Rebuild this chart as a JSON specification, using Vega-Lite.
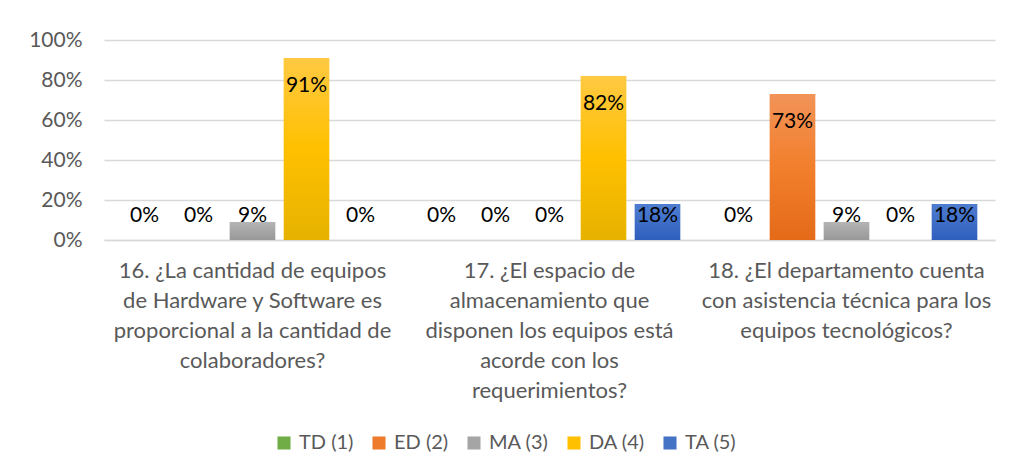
{
  "$schema": "https://vega.github.io/schema/vega-lite/v6.json",
  "autosize": {"type": "none"},
  "width": 891,
  "height": 200,
  "padding": {"left": 104, "top": 40, "right": 14, "bottom": 232},
  "background": "white",
  "config": {
    "view": {"stroke": null},
    "font": "Lato",
    "axis": {"labelFont": "Lato", "labelColor": "#595959", "labelFontSize": 21}
  },
  "data": {
    "values": [
      {"q": "16. ¿La cantidad de equipos\nde Hardware y Software es\nproporcional a la cantidad de\ncolaboradores?", "s": "TD (1)", "v": 0},
      {"q": "16. ¿La cantidad de equipos\nde Hardware y Software es\nproporcional a la cantidad de\ncolaboradores?", "s": "ED (2)", "v": 0},
      {"q": "16. ¿La cantidad de equipos\nde Hardware y Software es\nproporcional a la cantidad de\ncolaboradores?", "s": "MA (3)", "v": 0.09},
      {"q": "16. ¿La cantidad de equipos\nde Hardware y Software es\nproporcional a la cantidad de\ncolaboradores?", "s": "DA (4)", "v": 0.91},
      {"q": "16. ¿La cantidad de equipos\nde Hardware y Software es\nproporcional a la cantidad de\ncolaboradores?", "s": "TA (5)", "v": 0},
      {"q": "17. ¿El espacio de\nalmacenamiento que\ndisponen los equipos está\nacorde con los\nrequerimientos?", "s": "TD (1)", "v": 0},
      {"q": "17. ¿El espacio de\nalmacenamiento que\ndisponen los equipos está\nacorde con los\nrequerimientos?", "s": "ED (2)", "v": 0},
      {"q": "17. ¿El espacio de\nalmacenamiento que\ndisponen los equipos está\nacorde con los\nrequerimientos?", "s": "MA (3)", "v": 0},
      {"q": "17. ¿El espacio de\nalmacenamiento que\ndisponen los equipos está\nacorde con los\nrequerimientos?", "s": "DA (4)", "v": 0.82},
      {"q": "17. ¿El espacio de\nalmacenamiento que\ndisponen los equipos está\nacorde con los\nrequerimientos?", "s": "TA (5)", "v": 0.18},
      {"q": "18. ¿El departamento cuenta\ncon asistencia técnica para los\nequipos tecnológicos?", "s": "TD (1)", "v": 0},
      {"q": "18. ¿El departamento cuenta\ncon asistencia técnica para los\nequipos tecnológicos?", "s": "ED (2)", "v": 0.73},
      {"q": "18. ¿El departamento cuenta\ncon asistencia técnica para los\nequipos tecnológicos?", "s": "MA (3)", "v": 0.09},
      {"q": "18. ¿El departamento cuenta\ncon asistencia técnica para los\nequipos tecnológicos?", "s": "DA (4)", "v": 0},
      {"q": "18. ¿El departamento cuenta\ncon asistencia técnica para los\nequipos tecnológicos?", "s": "TA (5)", "v": 0.18}
    ]
  },
  "encoding": {
    "x": {
      "field": "q", "type": "nominal", "sort": null, "title": null,
      "scale": {"paddingInner": 0.12, "paddingOuter": 0.06},
      "axis": {"labelAngle": 0, "labelExpr": "split(datum.value, '\\n')", "labelFontSize": 22, "labelLineHeight": 30, "labelPadding": 20, "ticks": false, "domainColor": "#D9D9D9", "domainWidth": 1.5, "labelLimit": 400}
    },
    "xOffset": {"field": "s", "type": "nominal", "sort": ["TD (1)", "ED (2)", "MA (3)", "DA (4)", "TA (5)"], "scale": {"paddingInner": 0.16}},
    "y": {"field": "v", "type": "quantitative", "title": null,
      "scale": {"domain": [0, 1]},
      "axis": {"format": ".0%", "values": [0, 0.2, 0.4, 0.6, 0.8, 1], "labelOverlap": false, "domain": false, "ticks": false, "gridColor": "#D9D9D9", "gridWidth": 1.5, "labelPadding": 22}}
  },
  "layer": [
    {
      "mark": {"type": "bar"},
      "encoding": {
        "color": {"field": "s", "type": "nominal", "sort": ["TD (1)", "ED (2)", "MA (3)", "DA (4)", "TA (5)"],
          "scale": {"domain": ["TD (1)", "ED (2)", "MA (3)", "DA (4)", "TA (5)"], "range": ["#70AD47", "#EE7A2C", "#A5A5A5", "#FFC000", "#4472C4"]},
          "legend": {"title": null, "orient": "none", "direction": "horizontal", "legendX": 170, "legendY": 393, "symbolType": "square", "symbolSize": 170, "symbolStrokeWidth": 0, "labelFont": "Lato", "labelFontSize": 20, "labelColor": "#595959", "columnPadding": 15, "labelOffset": 5}}
      }
    },
    {
      "transform": [{"filter": "datum.s == 'ED (2)'"}],
      "mark": {"type": "bar", "color": {"gradient": "linear", "x1": 0, "y1": 0, "x2": 0, "y2": 1, "stops": [{"offset": 0, "color": "#F29358"}, {"offset": 0.5, "color": "#F27F2C"}, {"offset": 1, "color": "#E46A18"}]}}
    },
    {
      "transform": [{"filter": "datum.s == 'MA (3)'"}],
      "mark": {"type": "bar", "color": {"gradient": "linear", "x1": 0, "y1": 0, "x2": 0, "y2": 1, "stops": [{"offset": 0, "color": "#B4B4B4"}, {"offset": 1, "color": "#989898"}]}}
    },
    {
      "transform": [{"filter": "datum.s == 'DA (4)'"}],
      "mark": {"type": "bar", "color": {"gradient": "linear", "x1": 0, "y1": 0, "x2": 0, "y2": 1, "stops": [{"offset": 0, "color": "#FFC942"}, {"offset": 0.5, "color": "#FFC000"}, {"offset": 1, "color": "#E6B200"}]}}
    },
    {
      "transform": [{"filter": "datum.s == 'TA (5)'"}],
      "mark": {"type": "bar", "color": {"gradient": "linear", "x1": 0, "y1": 0, "x2": 0, "y2": 1, "stops": [{"offset": 0, "color": "#4E7DD0"}, {"offset": 1, "color": "#2F5FBE"}]}}
    },
    {
      "transform": [{"filter": "datum.v >= 0.2"}],
      "mark": {"type": "text", "fontSize": 21, "color": "#000000", "dy": 28, "font": "Lato"},
      "encoding": {
        "text": {"field": "v", "type": "quantitative", "format": ".0%"}
      }
    },
    {
      "transform": [{"filter": "datum.v < 0.2"}],
      "mark": {"type": "text", "fontSize": 21, "color": "#000000", "dy": -24, "font": "Lato"},
      "encoding": {
        "y": {"datum": 0, "type": "quantitative"},
        "text": {"field": "v", "type": "quantitative", "format": ".0%"}
      }
    }
  ]
}
